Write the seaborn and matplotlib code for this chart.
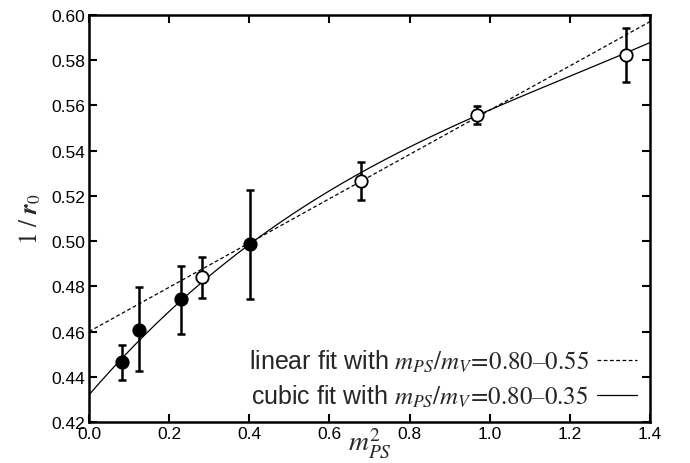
import numpy as np
import pandas as pd
import matplotlib
matplotlib.use("Agg")
import matplotlib.pyplot as plt
import seaborn as sns

# data
m2_filled = [0.082, 0.124, 0.230, 0.401]
r_filled = [0.4465, 0.4608, 0.4742, 0.4986]
err_lo_filled = [0.0080, 0.0181, 0.0153, 0.0242]
err_hi_filled = [0.0075, 0.0187, 0.0147, 0.0240]

m2_open = [0.282, 0.678, 0.968, 1.339]
r_open = [0.4840, 0.5266, 0.5556, 0.5824]
err_lo_open = [0.0092, 0.0083, 0.0038, 0.0119]
err_hi_open = [0.0088, 0.0085, 0.0040, 0.0119]

# fit coefficients (constant first)
linear_coef = [0.4600, 0.0979]
cubic_coef = [0.4320, 0.2052, -0.1095, 0.0303]

linear_label = "linear fit with $m_{PS}/m_V\\!=\\!\\mathrm{0.80\u20130.55}$"
cubic_label = "cubic fit with $m_{PS}/m_V\\!=\\!\\mathrm{0.80\u20130.35}$"

sns.set_theme(style="ticks")
plt.rcParams["font.family"] = ["Liberation Sans", "DejaVu Sans"]
plt.rcParams["mathtext.fontset"] = "stix"

fig = plt.figure(figsize=(6.9, 4.64), dpi=100)
ax = fig.add_axes([0.129, 0.0884, 0.813, 0.8771])

xs = np.linspace(0.0, 1.4, 200)
lin = pd.DataFrame({"x": xs, "y": np.polyval(linear_coef[::-1], xs)})
cub = pd.DataFrame({"x": xs, "y": np.polyval(cubic_coef[::-1], xs)})
sns.lineplot(data=lin, x="x", y="y", ax=ax, color="black", lw=0.9,
             linestyle=(0, (3, 2)), label=linear_label)
sns.lineplot(data=cub, x="x", y="y", ax=ax, color="black", lw=0.9,
             label=cubic_label)

ax.errorbar(m2_filled, r_filled, yerr=[err_lo_filled, err_hi_filled], fmt="none",
            ecolor="black", elinewidth=1.8, capsize=2.7, capthick=1.8, zorder=3)
ax.errorbar(m2_open, r_open, yerr=[err_lo_open, err_hi_open], fmt="none",
            ecolor="black", elinewidth=1.8, capsize=2.7, capthick=1.8, zorder=3)
sns.scatterplot(x=m2_filled, y=r_filled, ax=ax, s=80, color="black",
                edgecolor="black", linewidth=1.3, zorder=4, legend=False)
sns.scatterplot(x=m2_open, y=r_open, ax=ax, s=80, color="white",
                edgecolor="black", linewidth=1.3, zorder=4, legend=False)

ax.set_xlim(0.0, 1.4)
ax.set_ylim(0.42, 0.60)
ax.set_xticks(np.arange(0.0, 1.41, 0.2))
ax.set_yticks(np.arange(0.42, 0.601, 0.02))
ax.xaxis.set_major_formatter(matplotlib.ticker.FormatStrFormatter("%.1f"))
ax.yaxis.set_major_formatter(matplotlib.ticker.FormatStrFormatter("%.2f"))
ax.tick_params(direction="in", top=True, right=True, length=5.5, width=1.5,
               labelsize=12.5, colors="black", pad=3)
for sp in ax.spines.values():
    sp.set_linewidth(1.8)
    sp.set_color("black")
    sp.set_visible(True)

ax.set_xlabel(r"$m^2_{PS}$", fontsize=20, labelpad=-11)
ax.set_ylabel(r"$1\ /\ \mathbfit{r}_0$", fontsize=18, labelpad=6)

leg = ax.legend(loc="lower right", frameon=False, markerfirst=False,
                fontsize=18, handlelength=1.6, handletextpad=0.35,
                labelspacing=0.35, borderpad=0.2, borderaxespad=0.3)

fig.savefig("out.png", dpi=100)
